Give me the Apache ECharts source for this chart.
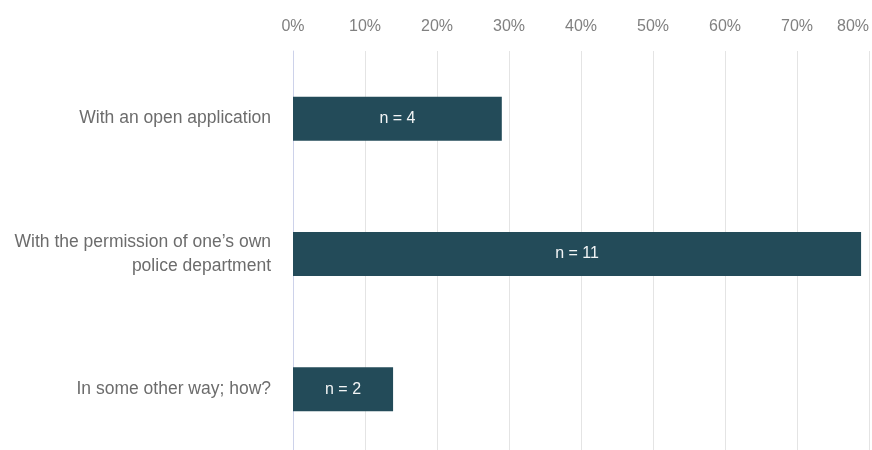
<!DOCTYPE html>
<html>
<head>
<meta charset="utf-8">
<script src="https://cdn.jsdelivr.net/npm/echarts@6/dist/echarts.min.js"></script>
<style>
  html, body { margin: 0; padding: 0; background: #ffffff; overflow: hidden; }
  /* the plot runs a few pixels past the bottom edge of the page */
  #chart { width: 872px; height: 460px; }
</style>
</head>
<body>
<div id="chart"></div>
<script>
// Ways of taking part, share of respondents (%) and respondent counts
const categories = [
  'With an open application',
  'With the permission of one\u2019s own\npolice department',
  'In some other way; how?'
];
const shares = [29.0, 78.9, 13.9];
const counts = [4, 11, 2];
const tickValues = [0, 10, 20, 30, 40, 50, 60, 70, 80];

const FONT = 'Arial, "Liberation Sans", sans-serif';

const chart = echarts.init(document.getElementById('chart'));
chart.setOption({
  animation: false,
  grid: { left: 293, right: 1, top: 51, height: 406, containLabel: false },
  xAxis: {
    type: 'value',
    position: 'top',
    min: tickValues[0],
    max: tickValues[tickValues.length - 1],
    interval: 10,
    axisLine: { show: false },
    axisTick: { show: false },
    axisLabel: {
      formatter: '{value}%',
      color: '#808080',
      fontSize: 16,
      fontFamily: FONT,
      margin: 16,
      alignMaxLabel: 'right'
    },
    splitLine: { show: true, lineStyle: { color: '#e4e4e4', width: 1 } }
  },
  yAxis: {
    type: 'category',
    inverse: true,
    data: categories,
    axisLine: { show: true, lineStyle: { color: '#cdd2ea', width: 1 } },
    axisTick: { show: false },
    axisLabel: {
      color: '#6c6c6c',
      fontSize: 17.5,
      lineHeight: 24,
      fontFamily: FONT,
      margin: 22,
      align: 'right'
    }
  },
  series: [{
    type: 'bar',
    data: shares,
    barWidth: 44,
    itemStyle: { color: '#234b59' },
    label: {
      show: true,
      position: 'inside',
      color: '#f2f4f5',
      fontSize: 16,
      fontFamily: FONT,
      formatter: p => 'n = ' + counts[p.dataIndex]
    }
  }]
});
</script>
</body>
</html>
